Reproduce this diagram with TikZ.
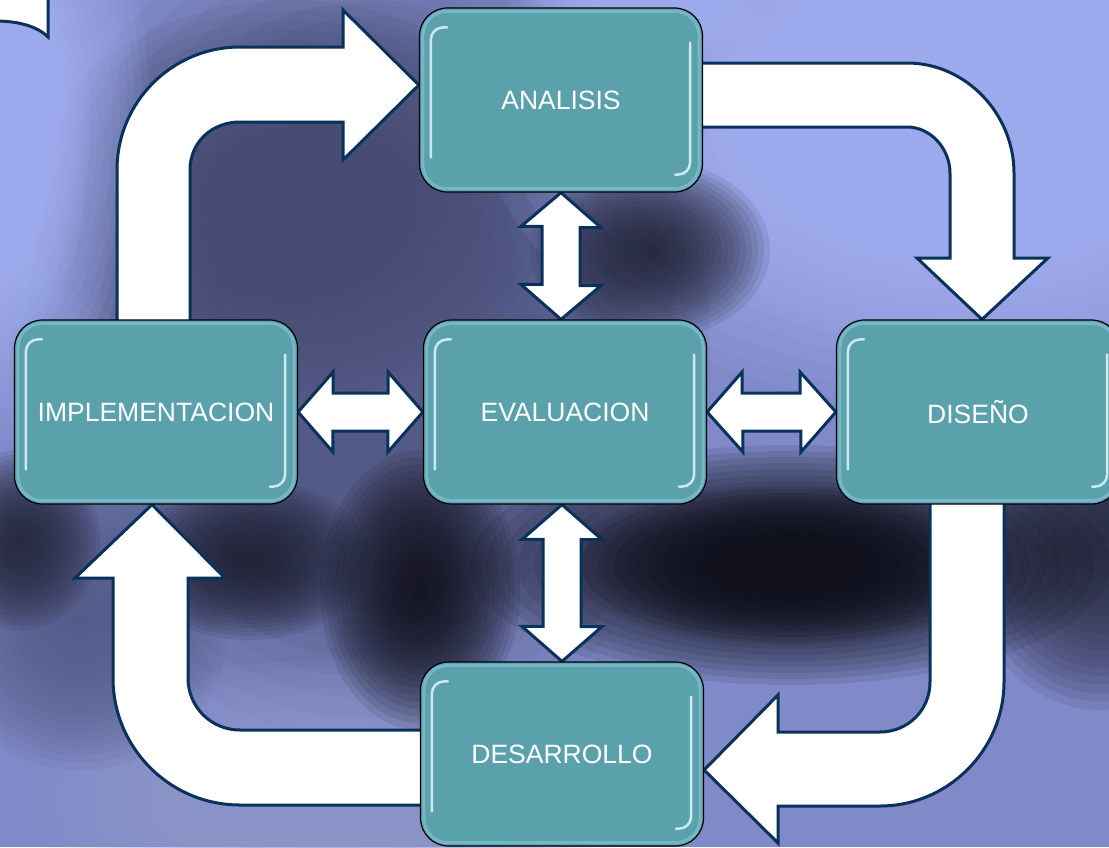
\documentclass[tikz,border=0pt]{standalone}
\usepackage{fontspec}
\setmainfont{Liberation Sans}
\usepackage{tikz}
\usetikzlibrary{calc}
\definecolor{fondo}{RGB}{165,178,245}
\definecolor{pizarra}{RGB}{84,90,134}
\definecolor{oscuro}{RGB}{16,16,26}
\definecolor{lavanda}{RGB}{128,138,200}
\definecolor{azulcaja}{RGB}{91,161,172}
\definecolor{marino}{RGB}{8,50,90}
\pgfdeclarelayer{fondo}
\pgfdeclarelayer{flechas}
\pgfsetlayers{fondo,flechas,main}
\newcommand{\mancha}[4]{\foreach \k in {1,...,20} {\fill[#1, opacity=.1] (#2) ellipse ({#3*\k/20} and {#4*\k/20});}}
\tikzset{
	caja/.style={draw=black, line width=1.2pt, fill=azulcaja, rounded corners=28pt, minimum width=283pt, minimum height=184pt, text=white, font=\fontsize{26.5}{30}\selectfont},
	flecha/.style={draw=marino, line width=3pt, fill=white, line join=miter},
	brillo/.style={draw=cyan!12!white, line width=2.5pt, line cap=round, opacity=.85},
	borde/.style={draw=cyan!35!white, line width=3pt, opacity=.35, rounded corners=24pt},
}

\begin{document}
\begin{tikzpicture}[x=1pt, y=-1pt]
	\useasboundingbox (0,0) rectangle (1109,847);
	\node[caja] (ana) at (561,100) {ANALISIS};
	\node[caja] (eva) at (565,412) {EVALUACION};
	\node[caja] (imp) at (156,412) {IMPLEMENTACION};
	\node[caja] (dis) at (978,412) {DISEÑO};
	\node[caja] (des) at (562,754) {DESARROLLO};
	\foreach \n in {ana,eva,imp,dis,des} {
		\draw[borde] ($(\n.north west)+(4,4)$) rectangle ($(\n.south east)+(-4,-4)$);
		\draw[brillo] ($(\n.north west)+(12,150)$) [rounded corners=12pt] -- ($(\n.north west)+(12,20)$) -- ($(\n.north west)+(28,20)$);
		\draw[brillo] ($(\n.south east)+(-13,-150)$) [rounded corners=12pt] -- ($(\n.south east)+(-13,-18)$) -- ($(\n.south east)+(-28,-18)$);
	}
	% foto difuminada del fondo
	\begin{pgfonlayer}{fondo}
		\fill[lavanda] (0,0) rectangle (1109,847);
		\mancha{pizarra}{360,340}{350}{420}
		\mancha{pizarra}{370,330}{270}{330}
		\mancha{pizarra!85!black}{290,200}{260}{200}
		\mancha{fondo}{980,110}{500}{300}
		\mancha{fondo}{960,120}{360}{230}
		\mancha{fondo}{1050,80}{260}{160}
		\mancha{fondo}{640,0}{120}{60}
		\mancha{fondo}{0,120}{150}{320}
		\mancha{fondo}{0,120}{90}{240}
		\mancha{lavanda!85!white}{330,800}{300}{140}
		\mancha{oscuro!75!pizarra}{650,250}{120}{90}
		\mancha{oscuro!70!pizarra}{1100,540}{140}{170}
		\mancha{pizarra}{80,620}{150}{150}
		\mancha{oscuro}{790,565}{320}{120}
		\mancha{oscuro}{790,565}{220}{80}
		\mancha{oscuro}{420,590}{100}{140}
		\mancha{oscuro!80!pizarra}{250,560}{120}{80}
		\mancha{oscuro!70!pizarra}{20,540}{80}{90}
	\end{pgfonlayer}
	\begin{pgfonlayer}{flechas}
		\draw[flecha] (-5,-5) -- (48,-5) -- (48,37) .. controls (38,27) and (20,21) .. (-5,21) -- cycle;
		% ciclo
		\draw[flecha] ([xshift=-39pt,yshift=-20pt]imp.north) -- (117,170) .. controls (117,102) and (172,47) .. (240,47) -- (343,47) -- (343,10) -- ([yshift=15pt]ana.west) -- (343,160) -- (343,122) -- (240,122) .. controls (212,122) and (190,142) .. (190,170) -- ([xshift=34pt,yshift=-20pt]imp.north) -- cycle;
		\draw[flecha] ([xshift=-8pt,yshift=37pt]ana.east) -- (907,63) .. controls (966,63) and (1014,114) .. (1014,173) -- (1014,258) -- (1048,258) -- ([xshift=4pt]dis.north) -- (917,258) -- (950,258) -- (950,173) .. controls (950,149) and (931,127) .. (907,127) -- ([xshift=-8pt,yshift=-27pt]ana.east) -- cycle;
		\draw[flecha] ([xshift=26pt,yshift=9pt]dis.south) -- (1004,682) .. controls (1004,750) and (948,806) .. (880,806) -- (778,806) -- (778,843) -- ([yshift=-16pt]des.east) -- (778,695) -- (778,732) -- (880,732) .. controls (908,732) and (930,710) .. (930,682) -- ([xshift=-48pt,yshift=9pt]dis.south) -- cycle;
		\draw[flecha] ([xshift=10pt,yshift=-51pt]des.west) -- (240,805) .. controls (170,805) and (113,748) .. (113,678) -- (113,578) -- (75,578) -- ([xshift=-4pt]imp.south) -- (225,578) -- (188,578) -- (188,678) .. controls (188,707) and (211,730) .. (240,730) -- ([xshift=10pt,yshift=24pt]des.west) -- cycle;
		% evaluacion con todas
		\draw[flecha] (ana.south) -- ++(40,35) -- ++(-21,0) -- ++(0,58) -- ++(21,0) -- (ana.south |- eva.north) -- ++(-40,-35) -- ++(21,0) -- ++(0,-58) -- ++(-21,0) -- cycle;
		\draw[flecha] (eva.south -| des.north) -- ++(40,35) -- ++(-21,0) -- ++(0,87) -- ++(21,0) -- (des.north) -- ++(-40,-35) -- ++(21,0) -- ++(0,-87) -- ++(-21,0) -- cycle;
		\draw[flecha] (imp.east) -- ++(35,-40) -- ++(0,21) -- ++(55,0) -- ++(0,-21) -- (eva.west) -- ++(-35,40) -- ++(0,-21) -- ++(-55,0) -- ++(0,21) -- cycle;
		\draw[flecha] (eva.east) -- ++(35,-40) -- ++(0,21) -- ++(58,0) -- ++(0,-21) -- (dis.west) -- ++(-35,40) -- ++(0,-21) -- ++(-58,0) -- ++(0,21) -- cycle;
	\end{pgfonlayer}
\end{tikzpicture}
\end{document}
